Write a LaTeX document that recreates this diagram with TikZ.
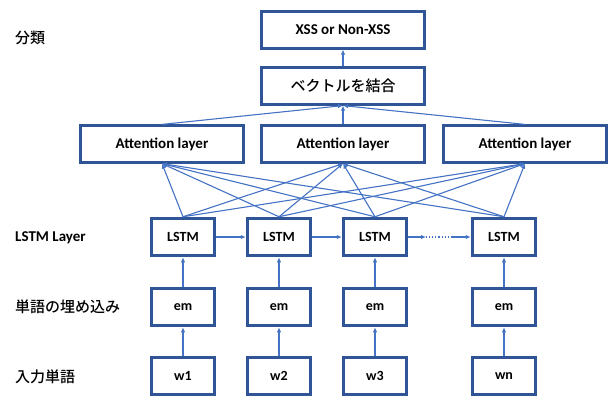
\documentclass[tikz,border=0pt]{standalone}
\usepackage{fontspec}
\setmainfont{Carlito}
\newfontfamily\jpfont{Noto Sans CJK JP Medium}
\usetikzlibrary{arrows.meta}
\definecolor{boxblue}{HTML}{2F5597}
\definecolor{lineblue}{HTML}{4472C4}

\begin{document}
\begin{tikzpicture}[x=1pt,y=-1pt,
		thickbox/.style={draw=boxblue, line width=3.5pt, minimum width=63pt, minimum height=37pt, font=\bfseries\fontsize{14}{16}\selectfont},
		thinbox/.style={draw=boxblue, line width=2.2pt, minimum width=163pt, minimum height=37pt, font=\bfseries\fontsize{15}{17}\selectfont},
		link/.style={draw=lineblue, line width=1.1pt, -{Latex[length=5pt,width=4.5pt]}},
		rowlabel/.style={anchor=west, inner sep=0pt, font=\bfseries\fontsize{15}{17}\selectfont}]
		\useasboundingbox (0,0) rectangle (611,397);
		% row labels
		\node[rowlabel] (lab1) at (15,38) {\jpfont\mdseries 分類};
		\node[rowlabel] (lab2) at (15,238) {LSTM Layer};
		\node[rowlabel] (lab3) at (15,307) {\jpfont\mdseries 単語の埋め込み};
		\node[rowlabel] (lab4) at (15,377) {\jpfont\mdseries 入力単語};
		% top
		\node[thinbox] (out) at (343,30) {XSS or Non-XSS};
		\node[thinbox] (vec) at (343,86) {\jpfont\mdseries ベクトルを結合};
		\node[thinbox] (att1) at (162,144) {Attention layer};
		\node[thinbox] (att2) at (343,144) {Attention layer};
		\node[thinbox] (att3) at (525,144) {Attention layer};
		% lstm, em, words
		\node[thickbox] (lstm1) at (183,237) {LSTM};
		\node[thickbox] (lstm2) at (279,237) {LSTM};
		\node[thickbox] (lstm3) at (375,237) {LSTM};
		\node[thickbox] (lstm4) at (504,237) {LSTM};
		\node[thickbox] (em1) at (183,307) {em};
		\node[thickbox] (em2) at (279,307) {em};
		\node[thickbox] (em3) at (375,307) {em};
		\node[thickbox] (em4) at (504,307) {em};
		\node[thickbox] (w1) at (183,376) {w1};
		\node[thickbox] (w2) at (279,376) {w2};
		\node[thickbox] (w3) at (375,376) {w3};
		\node[thickbox] (wn) at (504,376) {wn};
		% connectors
		\foreach \i in {1,2,3,4}
			\draw[link] (em\i) -- (lstm\i);
		\draw[link] (w1) -- (em1);
		\draw[link] (w2) -- (em2);
		\draw[link] (w3) -- (em3);
		\draw[link] (wn) -- (em4);
		\foreach \i in {1,2,3,4}
			\foreach \j in {1,2,3}
				\draw[link] (lstm\i.north) -- (att\j.south);
		\foreach \j in {1,2,3}
			\draw[link] (att\j.north) -- (vec.south);
		\draw[link] (vec) -- (out);
		\draw[link] (lstm1) -- (lstm2);
		\draw[link] (lstm2) -- (lstm3);
		\coordinate (dot1) at (426,237);
		\coordinate (dot2) at (452,237);
		\draw[link] (lstm3.east) -- (dot1);
		\draw[lineblue, line width=1.1pt, dotted] (dot1) -- (dot2);
		\draw[link] (dot2) -- (lstm4.west);
\end{tikzpicture}
\end{document}
